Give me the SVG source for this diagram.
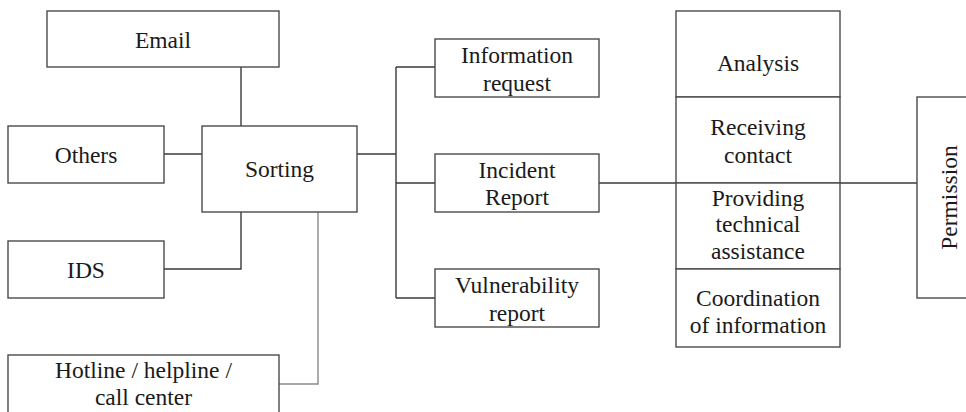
<svg xmlns="http://www.w3.org/2000/svg" width="966" height="412" viewBox="0 0 966 412">
<style>
.box{fill:#fff;stroke:#4a4a4a;stroke-width:1.4}
.ln{fill:none;stroke:#3a3a3a;stroke-width:1.4}
.lt{fill:none;stroke:#8a8a8a;stroke-width:1.4}
text{font-family:"Liberation Serif","DejaVu Serif",serif;font-size:23.5px;fill:#1a1a1a;text-anchor:middle}
</style>
<rect width="966" height="412" fill="#fff"/>
<g id="connectors">
<path class="ln" d="M241 67V126"/>
<path class="ln" d="M164 154H202"/>
<path class="ln" d="M241 212V269H164"/>
<path class="lt" d="M318 212V384H279"/>
<path class="ln" d="M357 154H396"/>
<path class="ln" d="M396 67V298"/>
<path class="ln" d="M396 67H435M396 183H435M396 298H435"/>
<path class="ln" d="M599 183H917"/>
</g>
<g id="email"><rect class="box" x="47" y="11" width="232" height="56"/><text x="163" y="47.7">Email</text></g>
<g id="others"><rect class="box" x="8" y="126" width="156" height="57"/><text x="86" y="162.7">Others</text></g>
<g id="sorting"><rect class="box" x="202" y="126" width="155" height="86"/><text x="279.5" y="177.3">Sorting</text></g>
<g id="ids"><rect class="box" x="8" y="241" width="156" height="57"/><text x="86" y="277.7">IDS</text></g>
<g id="hotline"><rect class="box" x="8" y="355" width="271" height="70"/><text x="143.5" y="378.3">Hotline / helpline /</text><text x="143.5" y="405">call center</text></g>
<g id="info-request"><rect class="box" x="435" y="39" width="164" height="58"/><text x="517" y="63.3">Information</text><text x="517" y="90.5">request</text></g>
<g id="incident-report"><rect class="box" x="435" y="154" width="164" height="58"/><text x="517" y="177.7">Incident</text><text x="517" y="205">Report</text></g>
<g id="vulnerability-report"><rect class="box" x="435" y="269" width="164" height="58"/><text x="517" y="293.3">Vulnerability</text><text x="517" y="321">report</text></g>
<g id="analysis"><rect class="box" x="676" y="11" width="164" height="86"/><text x="758" y="71">Analysis</text></g>
<g id="receiving-contact"><rect class="box" x="676" y="97" width="164" height="86"/><text x="758" y="135">Receiving</text><text x="758" y="162.7">contact</text></g>
<g id="technical-assistance"><rect class="box" x="676" y="183" width="164" height="86"/><text x="758" y="205.7">Providing</text><text x="758" y="231.5">technical</text><text x="758" y="259">assistance</text></g>
<g id="coordination"><rect class="box" x="676" y="269" width="164" height="78"/><text x="758" y="306">Coordination</text><text x="758" y="333.3">of information</text></g>
<g id="permission"><rect class="box" x="917" y="97" width="60" height="201"/><text transform="translate(957 197.5) rotate(-90)">Permission</text></g>
</svg>
